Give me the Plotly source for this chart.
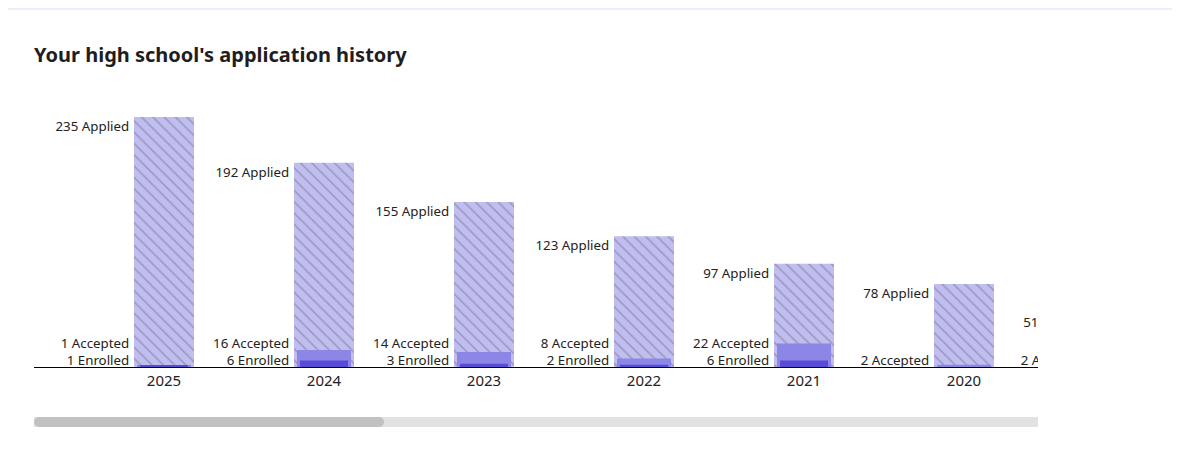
import plotly.graph_objects as go

# application history per graduating class (newest first)
years = ["2025", "2024", "2023", "2022", "2021", "2020", "2019"]
applied = [235, 192, 155, 123, 97, 78, 51]
accepted = [1, 16, 14, 8, 22, 2, 2]
enrolled = [1, 6, 3, 2, 6, 0, 0]

FONT = "Noto Sans"
TEXT_COLOR = "#222222"

# the page body adds an 8px margin, so the figure is sized to fit
FIG_W, FIG_H = 1172, 447
PLOT_LEFT, PLOT_RIGHT = 26, 1030
PLOT_TOP, PLOT_BOTTOM = 92, 359
Y_MAX = 251
PX = (PLOT_BOTTOM - PLOT_TOP) / Y_MAX  # pixels per applicant
PLOT_W = PLOT_RIGHT - PLOT_LEFT

W_APPLIED, W_ACCEPTED, W_ENROLLED = 0.375, 0.3375, 0.30
LABEL_GAP = 0.03
ROW_STEP = 17  # px between the stacked bottom labels

xs = list(range(len(years)))

fig = go.Figure()

fig.add_trace(go.Bar(
    x=xs, y=applied, width=W_APPLIED,
    marker=dict(
        color="#c0bdf0",
        line=dict(width=0),
        pattern=dict(shape="\\", fgcolor="#77758a", size=8, solidity=0.2),
    ),
    hoverinfo="skip",
))
fig.add_trace(go.Bar(
    x=xs, y=accepted, width=W_ACCEPTED,
    marker=dict(color="#8c86e6", line=dict(width=0)),
    hoverinfo="skip",
))
fig.add_trace(go.Bar(
    x=xs, y=enrolled, width=W_ENROLLED,
    marker=dict(color="#574bd8", line=dict(width=0)),
    hoverinfo="skip",
))

# labels to the left of every bar
lab_x, lab_y, lab_t = [], [], []
for i, yr in enumerate(years):
    lx = i - W_APPLIED / 2 - LABEL_GAP
    lab_x.append(lx)
    lab_y.append(applied[i] - 11 / PX)
    lab_t.append(f"{applied[i]} Applied")
    slot = 0
    if enrolled[i] > 0:
        lab_x.append(lx)
        lab_y.append(5 / PX)
        lab_t.append(f"{enrolled[i]} Enrolled")
        slot = 1
    lab_x.append(lx)
    lab_y.append((5 + ROW_STEP * slot) / PX)
    lab_t.append(f"{accepted[i]} Accepted")

fig.add_trace(go.Scatter(
    x=lab_x, y=lab_y, text=lab_t, mode="text",
    textposition="middle left",
    textfont=dict(family=FONT, size=13.3, color=TEXT_COLOR),
    cliponaxis=True, hoverinfo="skip",
))

view_lo = -130 / 160
view_hi = view_lo + PLOT_W / 160

fig.update_layout(
    width=FIG_W, height=FIG_H,
    margin=dict(l=PLOT_LEFT, r=FIG_W - PLOT_RIGHT, t=PLOT_TOP, b=FIG_H - PLOT_BOTTOM),
    paper_bgcolor="white", plot_bgcolor="white",
    barmode="overlay", showlegend=False,
    font=dict(family=FONT, color=TEXT_COLOR),
    title=dict(
        text="<b>Your high school's application history</b>",
        x=0, xref="paper", xanchor="left",
        y=1 - 47 / FIG_H, yanchor="middle",
        font=dict(family=FONT, size=20, color="#1f1d1d"),
    ),
    xaxis=dict(
        range=[view_lo, view_hi], tickvals=xs, ticktext=years,
        showgrid=False, zeroline=False, showline=True,
        linecolor="black", linewidth=1, ticks="",
        tickfont=dict(family=FONT, size=15, color=TEXT_COLOR),
        fixedrange=True,
    ),
    yaxis=dict(
        range=[0, Y_MAX], visible=False, showgrid=False,
        zeroline=False, fixedrange=True,
    ),
)

# faint strip at the top of the card
fig.add_shape(type="rect", xref="paper", yref="paper",
              x0=-PLOT_LEFT / PLOT_W, x1=(FIG_W - PLOT_LEFT) / PLOT_W,
              ysizemode="pixel", yanchor=1, y0=PLOT_TOP, y1=PLOT_TOP - 2,
              fillcolor="#eeedfa", line=dict(width=0), layer="above")

# horizontal scrollbar under the chart
fig.add_shape(type="rect", xref="paper", yref="paper", x0=0, x1=1,
              ysizemode="pixel", yanchor=0, y0=-50, y1=-60,
              fillcolor="#e2e2e2", line=dict(width=0))
fig.add_shape(type="rect", xref="paper", yref="paper",
              xsizemode="pixel", xanchor=0, x0=5, x1=345,
              ysizemode="pixel", yanchor=0, y0=-50, y1=-60,
              fillcolor="#c1c1c1", line=dict(width=0))
for cx in (5, 345):
    fig.add_shape(type="circle", xref="paper", yref="paper",
                  xsizemode="pixel", xanchor=0, x0=cx - 5, x1=cx + 5,
                  ysizemode="pixel", yanchor=0, y0=-50, y1=-60,
                  fillcolor="#c1c1c1", line=dict(width=0))

fig.write_html("out.html", config={"displayModeBar": False})
